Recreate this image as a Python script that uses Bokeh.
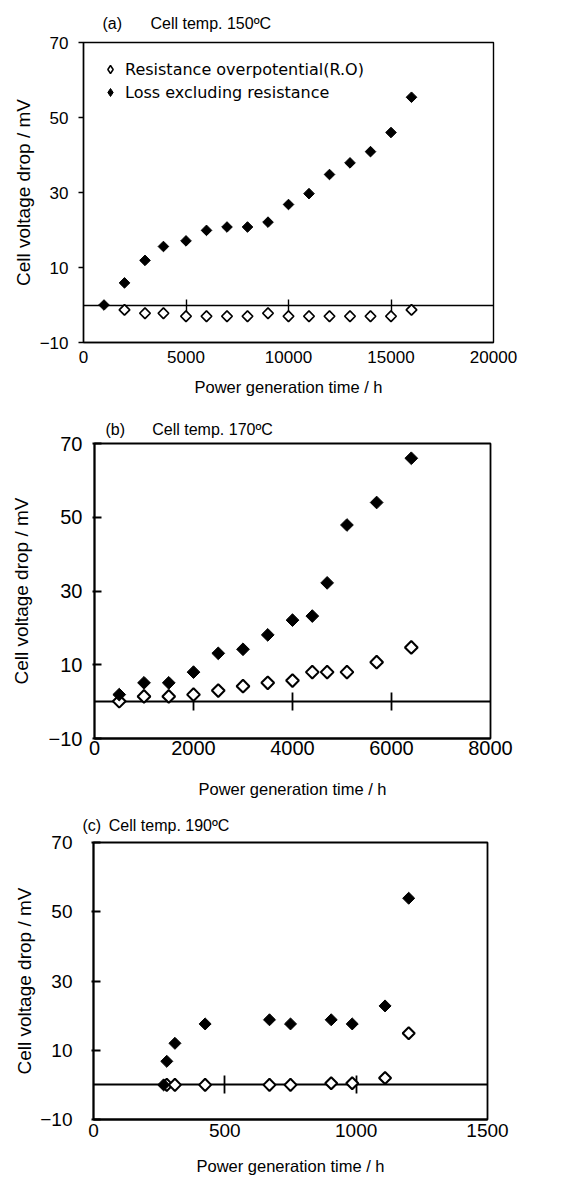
import numpy as np
from bokeh.plotting import figure
from bokeh.layouts import column, row
from bokeh.models import (LinearAxis, FixedTicker, Legend, LegendItem, Range1d, Title)
from bokeh.embed import file_html
from bokeh.resources import INLINE

# ---------------- data ----------------
# (a) Cell temp. 150ºC
a_loss_time = [1000, 2000, 3000, 3900, 5000, 6000, 7000, 8000, 9000, 10000, 11000, 12000, 13000, 14000, 15000, 16000]
a_loss = [0, 5.9, 11.9, 15.6, 17.1, 19.9, 20.8, 20.8, 22.1, 26.8, 29.7, 34.8, 37.9, 40.9, 46.0, 55.4]
a_ro_time = [2000, 3000, 3900, 5000, 6000, 7000, 8000, 9000, 10000, 11000, 12000, 13000, 14000, 15000, 16000]
a_ro = [-1.3, -2.2, -2.2, -3.0, -3.0, -3.0, -3.0, -2.2, -3.0, -3.0, -3.0, -3.0, -3.0, -3.0, -1.3]
a_xticks = [0, 5000, 10000, 15000, 20000]
a_xinner = [5000, 10000, 15000]

# (b) Cell temp. 170ºC
b_loss_time = [500, 1000, 1500, 2000, 2500, 3000, 3500, 4000, 4400, 4700, 5100, 5700, 6400]
b_loss = [1.9, 5.1, 5.1, 8.0, 13.1, 14.2, 18.1, 22.1, 23.2, 32.2, 47.9, 54.0, 66.0]
b_ro_time = [500, 1000, 1500, 2000, 2500, 3000, 3500, 4000, 4400, 4700, 5100, 5700, 6400]
b_ro = [0.1, 1.4, 1.4, 1.9, 3.0, 4.2, 5.1, 5.7, 8.0, 8.0, 8.0, 10.7, 14.7]
b_xticks = [0, 2000, 4000, 6000, 8000]
b_xinner = [2000, 4000, 6000]

# (c) Cell temp. 190ºC
c_loss_time = [267, 279, 310, 425, 670, 750, 905, 985, 1110, 1200]
c_loss = [0, 6.8, 12.0, 17.6, 18.8, 17.6, 18.8, 17.6, 22.8, 53.9]
c_ro_time = [279, 310, 425, 670, 750, 905, 985, 1110, 1200]
c_ro = [0, 0, 0, 0, 0, 0.5, 0.5, 2.0, 14.9]
c_xticks = [0, 500, 1000, 1500]
c_xinner = [500, 1000]

y_ticks = [-10, 10, 30, 50, 70]
y_labels = {-10: "\u221210"}

series_names = ["Resistance overpotential(R.O)", "Loss excluding resistance"]
x_title = "Power generation time / h"
y_title = "Cell voltage drop / mV"

SANS = "Liberation Sans"


def make_panel(title, ro_t, ro_v, loss_t, loss_v, xmax, xticks, xinner,
               height, top, fh, fw, left, bottom, tick_fs, msize, lw, xtick_len,
               ytick_in, ytick_out, ylab_stand, ytitle_stand, xlab_stand, xtitle_stand,
               title_off, title_stand, legend=False):
    p = figure(width=562, height=height, frame_width=fw, frame_height=fh,
               min_border_left=left, min_border_top=top, min_border_bottom=bottom,
               min_border_right=562 - left - fw,
               x_range=Range1d(0, xmax), y_range=Range1d(-10, 70),
               output_backend="svg", toolbar_location=None,
               background_fill_color="white", border_fill_color="white")
    p.grid.visible = False
    p.outline_line_color = "black"
    p.outline_line_width = lw

    xa = p.below[0]
    ya = p.left[0]

    xa.ticker = FixedTicker(ticks=xticks)
    xa.major_tick_line_color = None
    xa.minor_tick_line_color = None
    xa.major_tick_out = 0
    xa.major_tick_in = 0
    xa.axis_line_color = "black"
    xa.axis_line_width = lw
    xa.major_label_text_font = SANS
    xa.major_label_text_font_size = f"{tick_fs}px"
    xa.major_label_text_color = "black"
    xa.major_label_standoff = xlab_stand
    xa.axis_label = x_title
    xa.axis_label_text_font = SANS
    xa.axis_label_text_font_size = "16.5px"
    xa.axis_label_text_font_style = "normal"
    xa.axis_label_text_color = "black"
    xa.axis_label_standoff = xtitle_stand

    ya.ticker = FixedTicker(ticks=y_ticks)
    ya.major_label_overrides = y_labels
    ya.minor_tick_line_color = None
    ya.major_tick_in = ytick_in
    ya.major_tick_out = ytick_out
    ya.major_tick_line_color = "black"
    ya.major_tick_line_width = lw
    ya.axis_line_color = "black"
    ya.axis_line_width = lw
    ya.major_label_text_font = SANS
    ya.major_label_text_font_size = f"{tick_fs}px"
    ya.major_label_text_color = "black"
    ya.major_label_standoff = ylab_stand
    ya.axis_label = y_title
    ya.axis_label_text_font = SANS
    ya.axis_label_text_font_size = "19px"
    ya.axis_label_text_font_style = "normal"
    ya.axis_label_text_color = "black"
    ya.axis_label_standoff = ytitle_stand

    p.add_layout(Title(text=title, align="left", offset=title_off, standoff=title_stand,
                       text_font=SANS, text_font_size="16px", text_font_style="normal",
                       text_color="black"), "above")

    # horizontal axis crossing at y = 0
    ax0 = LinearAxis(fixed_location=0, ticker=FixedTicker(ticks=xinner),
                     major_tick_in=xtick_len, major_tick_out=xtick_len,
                     major_tick_line_color="black", major_tick_line_width=lw,
                     minor_tick_line_color=None,
                     axis_line_color="black", axis_line_width=lw,
                     major_label_overrides={t: "" for t in xinner},
                     level="underlay")
    p.add_layout(ax0, "below")

    r_ro = p.scatter(ro_t, ro_v, marker="square", angle=np.pi / 4, size=msize,
                     fill_color="white", line_color="black", line_width=lw + 0.3)
    r_loss = p.scatter(loss_t, loss_v, marker="square", angle=np.pi / 4, size=msize,
                       fill_color="black", line_color="black", line_width=1)

    if legend:
        # hidden renderers used only for the diamond legend swatches
        s_ro = p.scatter(ro_t[:1], ro_v[:1], marker="diamond", size=8, visible=False,
                         fill_color="white", line_color="black", line_width=1.5)
        s_loss = p.scatter(loss_t[:1], loss_v[:1], marker="diamond", size=8, visible=False,
                           fill_color="black", line_color="black", line_width=1)
        lg = Legend(items=[LegendItem(label=series_names[0], renderers=[s_ro]),
                           LegendItem(label=series_names[1], renderers=[s_loss])],
                    location=(17, fh - 60), orientation="vertical",
                    background_fill_alpha=0, border_line_color=None,
                    padding=0, margin=0, spacing=3,
                    glyph_width=20, glyph_height=20, label_height=20,
                    label_standoff=5, label_text_font="DejaVu Sans",
                    label_text_font_size="16px", label_text_color="black")
        p.add_layout(lg, "center")
    return p


pa = make_panel("(a)\u2003\u2002 Cell temp. 150\u00baC", a_ro_time, a_ro, a_loss_time, a_loss,
                20000, a_xticks, a_xinner,
                height=398, top=42, fh=300, fw=410, left=83, bottom=56, tick_fs=17, msize=7.5, lw=1.4,
                xtick_len=6,
                ytick_in=0, ytick_out=5, ylab_stand=10, ytitle_stand=3, xlab_stand=8, xtitle_stand=12,
                title_off=19, title_stand=22, legend=True)
pb = make_panel("(b)\u2003\u2002\u2009Cell temp. 170\u00baC", b_ro_time, b_ro, b_loss_time, b_loss,
                8000, b_xticks, b_xinner,
                height=403, top=45, fh=295, fw=396, left=94, bottom=63, tick_fs=20, msize=9, lw=1.8,
                xtick_len=9,
                ytick_in=7, ytick_out=2, ylab_stand=10, ytitle_stand=14, xlab_stand=2, xtitle_stand=22,
                title_off=11, title_stand=12)
pc = make_panel("(c)\u2009 Cell temp. 190\u00baC", c_ro_time, c_ro, c_loss_time, c_loss,
                1500, c_xticks, c_xinner,
                height=377, top=41, fh=277, fw=394, left=93, bottom=59, tick_fs=19, msize=8.5, lw=1.8,
                xtick_len=9,
                ytick_in=7, ytick_out=2, ylab_stand=19, ytitle_stand=2, xlab_stand=4, xtitle_stand=17,
                title_off=-11, title_stand=18)

layout = column(row(pa), row(pb), row(pc), spacing=0)
open("out.html", "w").write(file_html(layout, INLINE))
